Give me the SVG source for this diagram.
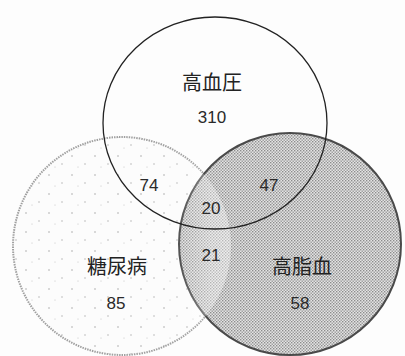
<svg xmlns="http://www.w3.org/2000/svg" width="405" height="356" viewBox="0 0 405 356">
<style>
.jp{font-family:"Noto Sans CJK JP","Noto Sans",sans-serif;font-size:20px;fill:#222;text-anchor:middle;dominant-baseline:central}
.num{font-family:"Liberation Sans",Arial,sans-serif;font-size:17px;fill:#2a2a2a;text-anchor:middle;dominant-baseline:central}
</style>
<defs>
<pattern id="dense" width="3" height="3" patternUnits="userSpaceOnUse">
<rect width="3" height="3" fill="#e4e4e4"/>
<rect x="0" y="0" width="1.4" height="1.4" fill="#8c8c8c"/>
<rect x="1.5" y="1.5" width="1.4" height="1.4" fill="#969696"/>
</pattern>
<pattern id="sparse" width="23" height="19" patternUnits="userSpaceOnUse">
<rect width="23" height="19" fill="#fcfcfc"/>
<circle cx="3" cy="4" r="0.7" fill="#999"/>
<circle cx="16" cy="12" r="0.7" fill="#aaa"/>
<circle cx="9" cy="15" r="0.5" fill="#bbb"/>
</pattern>
<linearGradient id="fade" x1="180" y1="0" x2="232" y2="0" gradientUnits="userSpaceOnUse">
<stop offset="0" stop-color="#fff" stop-opacity="0.05"/>
<stop offset="0.6" stop-color="#fff" stop-opacity="0.35"/>
<stop offset="1" stop-color="#fff" stop-opacity="0.4"/>
</linearGradient>
<clipPath id="leftClip"><circle cx="122" cy="246" r="109"/></clipPath>
</defs>
<rect width="405" height="356" fill="#fdfdfd"/>
<g id="node-diabetes">
<circle cx="122" cy="246" r="109" fill="url(#sparse)" stroke="#a0a0a0" stroke-width="2" stroke-dasharray="1.5 1"/>
</g>
<g id="node-hyperlipidemia">
<circle cx="290" cy="244" r="111" fill="url(#dense)" stroke="#4a4a4a" stroke-width="2"/>
<rect x="170" y="130" width="70" height="230" fill="url(#fade)" clip-path="url(#leftClip)"/>
</g>
<g id="node-hypertension">
<ellipse cx="215" cy="123" rx="112" ry="106" fill="none" stroke="#222" stroke-width="1.3"/>
</g>
<g id="labels">
<text class="jp" x="212" y="81">高血圧</text>
<text class="num" x="212" y="117">310</text>
<text class="num" x="149" y="185">74</text>
<text class="num" x="269" y="185">47</text>
<text class="num" x="211" y="208">20</text>
<text class="num" x="211" y="255">21</text>
<text class="jp" x="117" y="265">糖尿病</text>
<text class="num" x="116" y="303">85</text>
<text class="jp" x="302" y="265">高脂血</text>
<text class="num" x="300" y="303">58</text>
</g>
</svg>
